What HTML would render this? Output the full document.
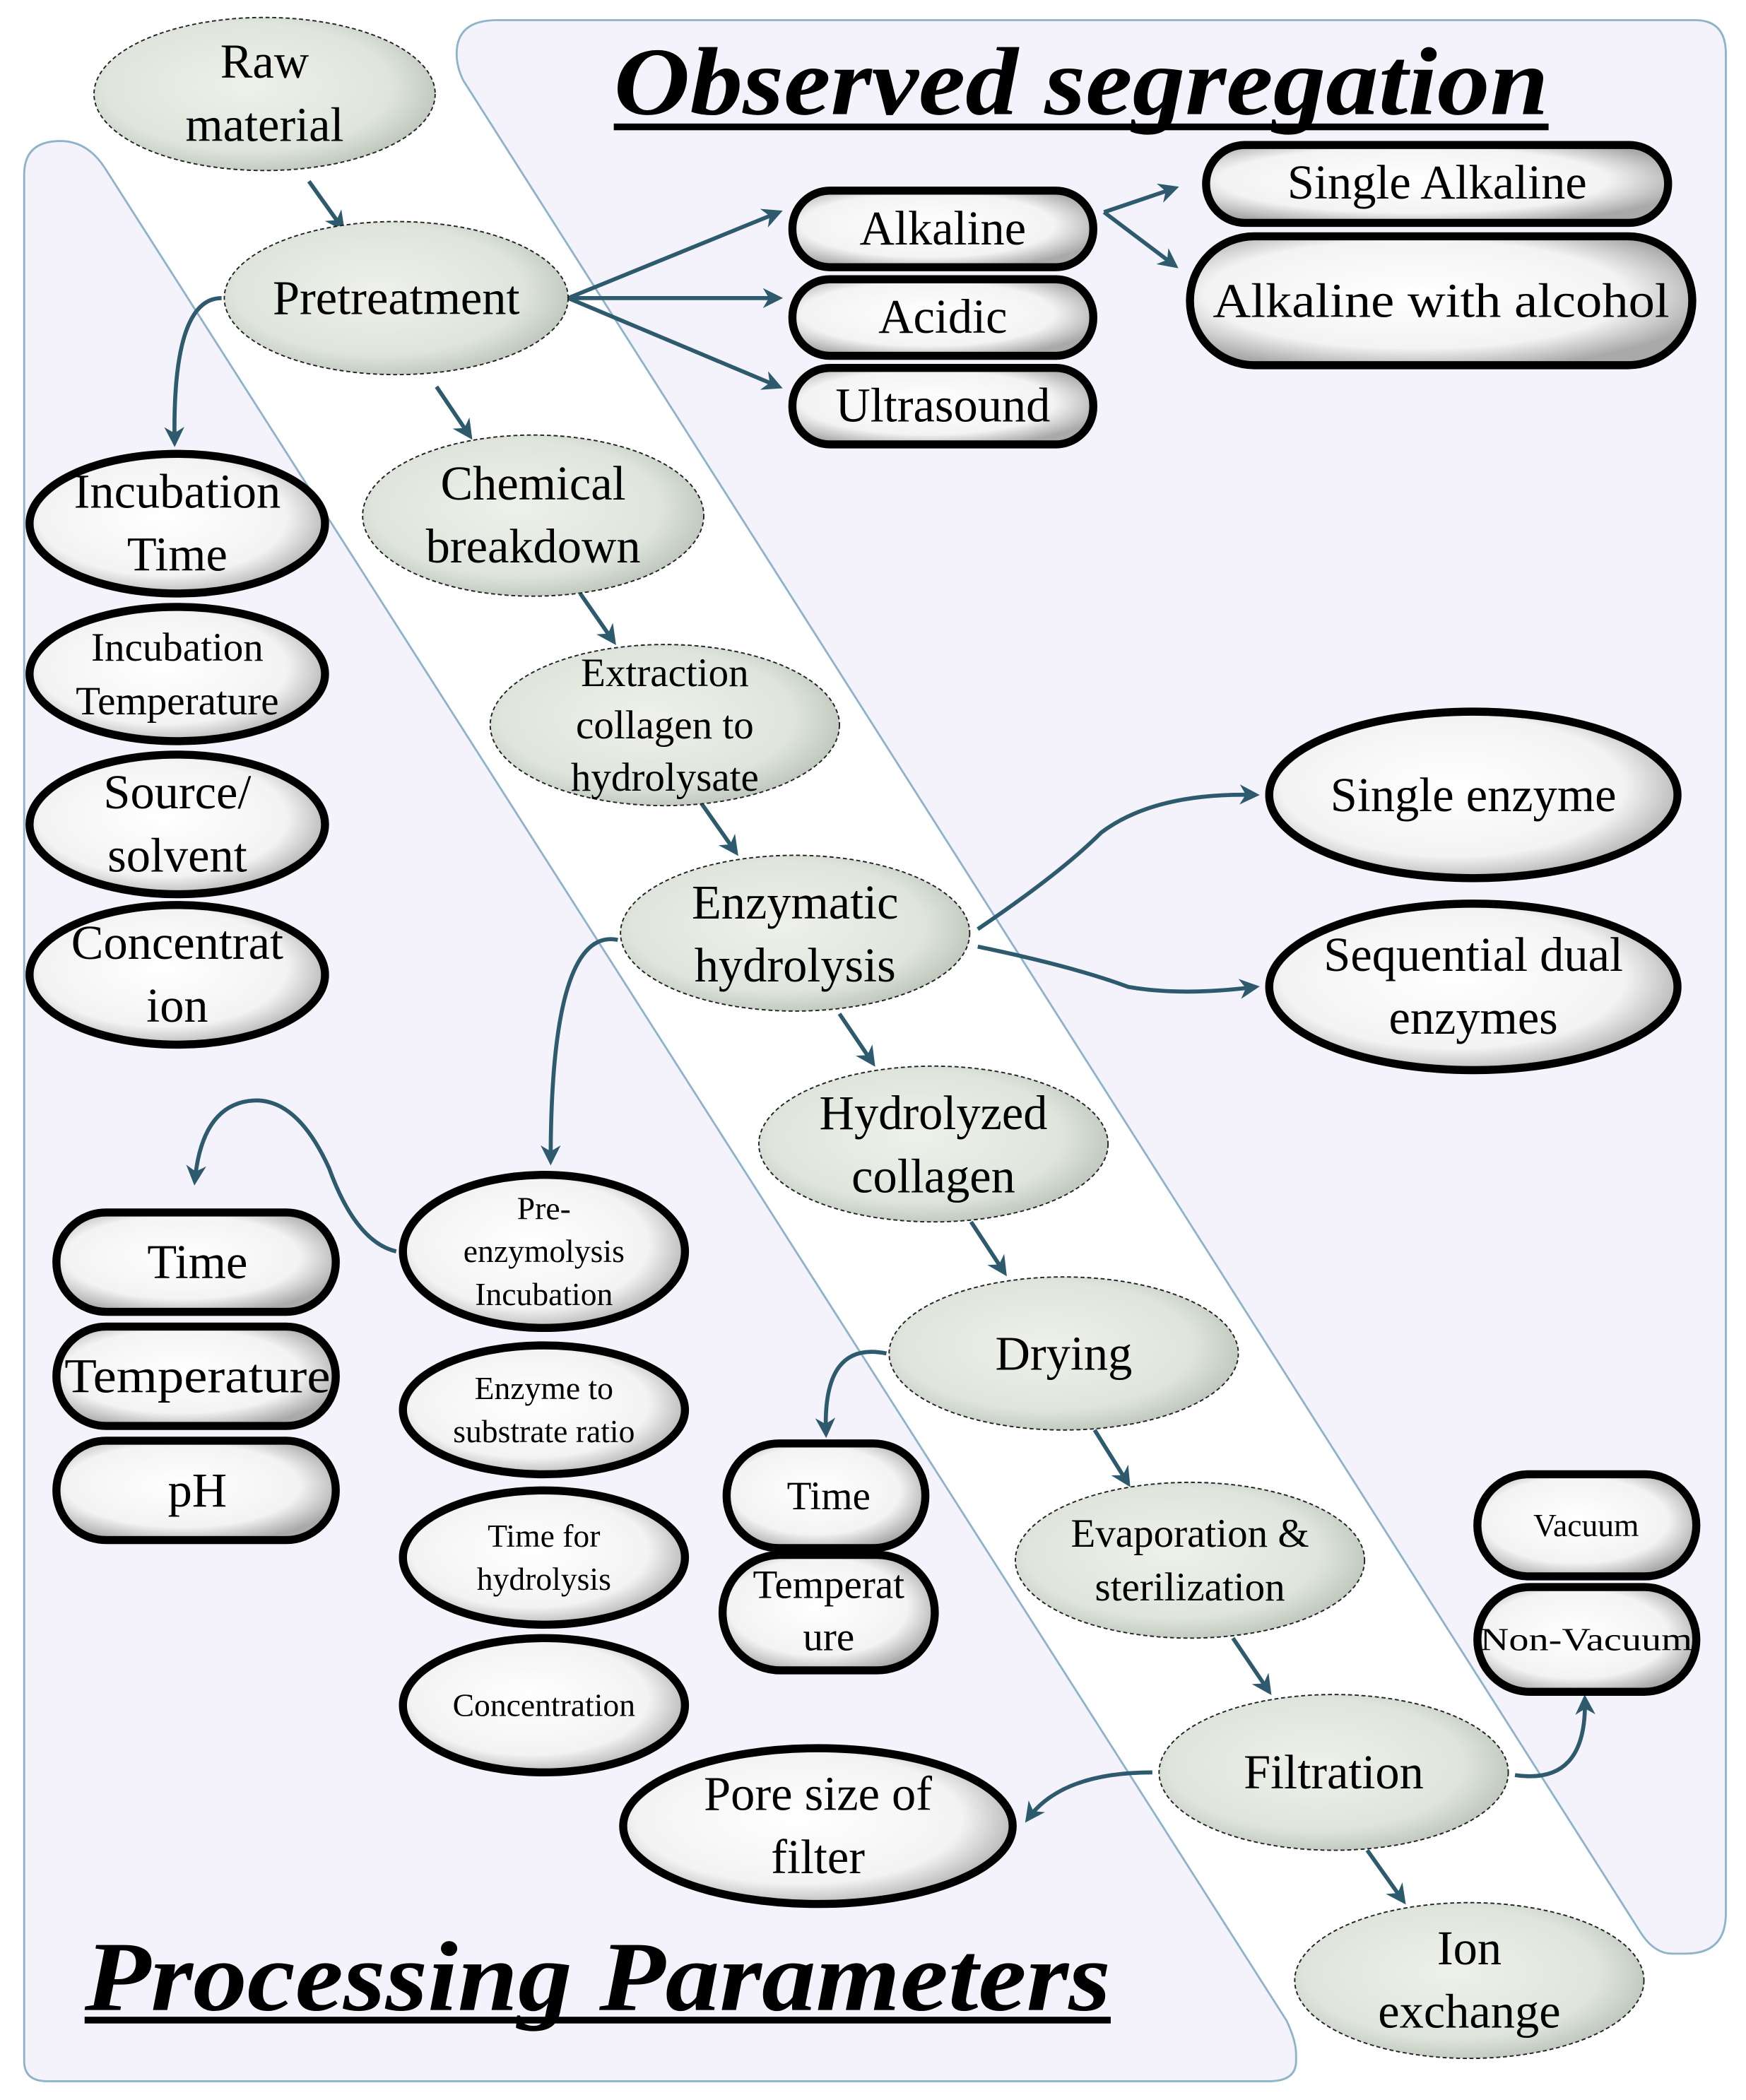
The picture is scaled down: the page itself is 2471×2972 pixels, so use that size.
<!DOCTYPE html>
<html><head><meta charset="utf-8"><style>html,body{margin:0;padding:0;background:#fff}svg{display:block}svg text{font-family:"Liberation Serif","Times New Roman",serif}</style></head>
<body>
<svg xmlns="http://www.w3.org/2000/svg" width="2471" height="2972" viewBox="0 0 1300 1564" preserveAspectRatio="none" style="font-family:'Liberation Serif',serif">
<defs>
<radialGradient id="g" cx="45%" cy="45%" r="60%"><stop offset="0" stop-color="#eef1ea"/><stop offset="0.7" stop-color="#dfe5dc"/><stop offset="1" stop-color="#b9c2b8"/></radialGradient>
<radialGradient id="w" cx="45%" cy="45%" r="60%"><stop offset="0" stop-color="#ffffff"/><stop offset="0.7" stop-color="#f3f3f3"/><stop offset="1" stop-color="#a9a9a9"/></radialGradient>
<marker id="a" viewBox="0 0 10 10" refX="8" refY="5" markerWidth="5" markerHeight="5" orient="auto"><path d="M0,0 L10,5 L0,10 L3,5 z" fill="#2e5a6e"/></marker>
</defs>
<rect width="1300" height="1564" fill="#fff"/>
<path d="M18,130 Q18,105 45,105 Q65,105 78,125 L958,1505 Q965,1520 965,1530 L965,1535 Q965,1550 945,1550 L35,1550 Q18,1550 18,1535 Z" fill="#f4f3fb" stroke="#8fb3c8" stroke-width="1.5"/>
<path d="M340,40 Q340,15 370,15 L1262,15 Q1285,15 1285,40 L1285,1425 Q1285,1455 1255,1455 L1245,1455 Q1232,1455 1222,1440 L345,60 Q340,50 340,40 Z" fill="#f4f3fb" stroke="#8fb3c8" stroke-width="1.5"/>
<text x="457" y="85" font-size="72" font-weight="bold" font-style="italic" textLength="696" lengthAdjust="spacingAndGlyphs">Observed segregation</text>
<rect x="457" y="92" width="696" height="5" fill="#000"/>
<text x="63" y="1497" font-size="74" font-weight="bold" font-style="italic" textLength="764" lengthAdjust="spacingAndGlyphs">Processing  Parameters</text>
<rect x="63" y="1502" width="764" height="5" fill="#000"/>
<g stroke="#2e5a6e" stroke-width="3" fill="none" marker-end="url(#a)">
<path d="M230,135 L255,170"/>
<path d="M325,288 L350,325"/>
<path d="M432,442 L457,478"/>
<path d="M522,598 L548,635"/>
<path d="M625,755 L650,792"/>
<path d="M723,910 L748,948"/>
<path d="M815,1065 L840,1105"/>
<path d="M918,1220 L945,1260"/>
<path d="M1018,1378 L1045,1416"/>
<path d="M423,222 L580,158"/>
<path d="M423,222 L580,222"/>
<path d="M423,222 L580,288"/>
<path d="M822,158 L875,140"/>
<path d="M822,158 L875,198"/>
<path d="M165,222 Q128,222 130,330"/>
<path d="M728,692 Q790,650 820,620 Q860,590 935,592"/>
<path d="M728,705 Q800,720 840,735 Q880,742 935,735"/>
<path d="M460,700 Q410,690 410,865"/>
<path d="M295,932 Q265,925 245,870 Q220,815 185,820 Q150,825 145,880"/>
<path d="M660,1008 Q612,998 615,1068"/>
<path d="M858,1320 Q790,1320 765,1355"/>
<path d="M1128,1322 Q1182,1330 1180,1265"/>
</g>
<g fill="url(#g)" stroke="#222" stroke-width="1" stroke-dasharray="3,2">
<ellipse cx="197" cy="70" rx="127" ry="57"/>
<ellipse cx="295" cy="222" rx="128" ry="57"/>
<ellipse cx="397" cy="384" rx="127" ry="60"/>
<ellipse cx="495" cy="540" rx="130" ry="60"/>
<ellipse cx="592" cy="695" rx="130" ry="58"/>
<ellipse cx="695" cy="852" rx="130" ry="58"/>
<ellipse cx="792" cy="1008" rx="130" ry="57"/>
<ellipse cx="886" cy="1162" rx="130" ry="58"/>
<ellipse cx="993" cy="1320" rx="130" ry="58"/>
<ellipse cx="1094" cy="1475" rx="130" ry="58"/>
</g>
<g fill="url(#w)" stroke="#000" stroke-width="6">
<rect x="590" y="142" width="224" height="57" rx="28"/>
<rect x="590" y="208" width="224" height="57" rx="28"/>
<rect x="590" y="274" width="224" height="57" rx="28"/>
<rect x="898" y="108" width="344" height="58" rx="29"/>
<rect x="886" y="176" width="374" height="96" rx="48"/>
<ellipse cx="132" cy="390" rx="110" ry="52"/>
<ellipse cx="132" cy="502" rx="110" ry="50"/>
<ellipse cx="132" cy="614" rx="110" ry="52"/>
<ellipse cx="132" cy="726" rx="110" ry="52"/>
<ellipse cx="1097" cy="592" rx="152" ry="62"/>
<ellipse cx="1097" cy="735" rx="152" ry="62"/>
<rect x="42" y="903" width="208" height="74" rx="37"/>
<rect x="42" y="988" width="208" height="74" rx="37"/>
<rect x="42" y="1073" width="208" height="74" rx="37"/>
<ellipse cx="405" cy="932" rx="105" ry="57"/>
<ellipse cx="405" cy="1050" rx="105" ry="48"/>
<ellipse cx="405" cy="1160" rx="105" ry="50"/>
<ellipse cx="405" cy="1270" rx="105" ry="50"/>
<rect x="541" y="1075" width="148" height="78" rx="39"/>
<rect x="538" y="1158" width="158" height="86" rx="43"/>
<rect x="1100" y="1098" width="163" height="76" rx="38"/>
<rect x="1100" y="1182" width="163" height="78" rx="39"/>
<ellipse cx="609" cy="1360" rx="145" ry="58"/>
</g>
<g text-anchor="middle" fill="#000">
<g font-size="36">
<text x="197" y="58">Raw</text><text x="197" y="105">material</text>
<text x="295" y="234">Pretreatment</text>
<text x="397" y="372">Chemical</text><text x="397" y="419">breakdown</text>
<text x="592" y="684">Enzymatic</text><text x="592" y="731">hydrolysis</text>
<text x="695" y="841">Hydrolyzed</text><text x="695" y="888">collagen</text>
<text x="792" y="1020">Drying</text>
<text x="993" y="1332">Filtration</text>
<text x="1094" y="1463">Ion</text><text x="1094" y="1510">exchange</text>
<text x="702" y="182">Alkaline</text>
<text x="702" y="248">Acidic</text>
<text x="702" y="314">Ultrasound</text>
<text x="1070" y="148">Single Alkaline</text>
<text x="1073" y="236" textLength="340" lengthAdjust="spacingAndGlyphs">Alkaline with alcohol</text>
<text x="132" y="378">Incubation</text><text x="132" y="425">Time</text>
<text x="132" y="602">Source/</text><text x="132" y="649">solvent</text>
<text x="132" y="714">Concentrat</text><text x="132" y="761">ion</text>
<text x="1097" y="604">Single enzyme</text>
<text x="1097" y="723">Sequential dual</text><text x="1097" y="770">enzymes</text>
<text x="147" y="952">Time</text>
<text x="147" y="1037" textLength="198" lengthAdjust="spacingAndGlyphs">Temperature</text>
<text x="147" y="1122">pH</text>
<text x="609" y="1348">Pore size of</text><text x="609" y="1395">filter</text>
</g>
<g font-size="30">
<text x="495" y="511">Extraction</text><text x="495" y="550">collagen to</text><text x="495" y="589">hydrolysate</text>
<text x="886" y="1152">Evaporation &amp;</text><text x="886" y="1192">sterilization</text>
<text x="132" y="492">Incubation</text><text x="132" y="532">Temperature</text>
<text x="617" y="1124">Time</text>
<text x="617" y="1190">Temperat</text><text x="617" y="1229">ure</text>
</g>
<g font-size="24">
<text x="405" y="908">Pre-</text><text x="405" y="940">enzymolysis</text><text x="405" y="972">Incubation</text>
<text x="405" y="1042">Enzyme to</text><text x="405" y="1074">substrate ratio</text>
<text x="405" y="1152">Time for</text><text x="405" y="1184">hydrolysis</text>
<text x="405" y="1278">Concentration</text>
<text x="1181" y="1144">Vacuum</text>
<text x="1181" y="1229" textLength="158" lengthAdjust="spacingAndGlyphs">Non-Vacuum</text>
</g>
</g>
</svg>
</body></html>
